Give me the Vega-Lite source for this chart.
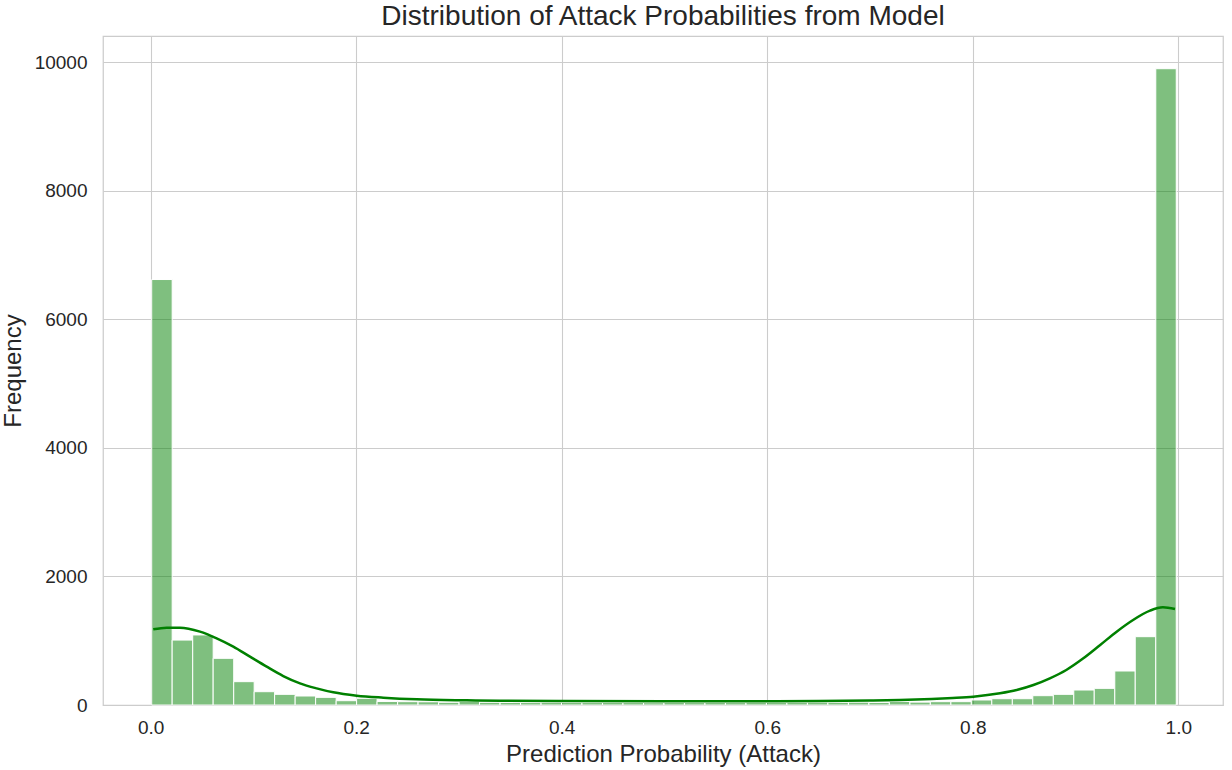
{
  "$schema": "https://vega.github.io/schema/vega-lite/v6.json",
  "autosize": "none",
  "padding": {"left": 103, "top": 36, "right": 9, "bottom": 65},
  "width": 1120,
  "height": 669,
  "background": "white",
  "config": {
    "font": "Liberation Sans",
    "view": {"stroke": "#cccccc", "strokeWidth": 1.25},
    "axis": {
      "domain": false,
      "ticks": false,
      "grid": true,
      "gridColor": "#cccccc",
      "gridWidth": 1.1,
      "labelColor": "#262626",
      "labelFont": "Liberation Sans",
      "labelFontSize": 19,
      "titleColor": "#262626",
      "titleFont": "Liberation Sans",
      "titleFontSize": 24,
      "titleFontWeight": "normal"
    },
    "title": {"font": "Liberation Sans", "fontSize": 28, "fontWeight": "normal", "color": "#262626"}
  },
  "title": {"text": "Distribution of Attack Probabilities from Model", "offset": 5},
  "datasets": {
    "bins": [
      {"x0": 0.0010, "x1": 0.0209, "count": 6620},
      {"x0": 0.0209, "x1": 0.0409, "count": 1010},
      {"x0": 0.0409, "x1": 0.0608, "count": 1090},
      {"x0": 0.0608, "x1": 0.0808, "count": 726},
      {"x0": 0.0808, "x1": 0.1007, "count": 363},
      {"x0": 0.1007, "x1": 0.1206, "count": 207},
      {"x0": 0.1206, "x1": 0.1406, "count": 166},
      {"x0": 0.1406, "x1": 0.1605, "count": 140},
      {"x0": 0.1605, "x1": 0.1805, "count": 119},
      {"x0": 0.1805, "x1": 0.2004, "count": 67},
      {"x0": 0.2004, "x1": 0.2203, "count": 104},
      {"x0": 0.2203, "x1": 0.2403, "count": 55},
      {"x0": 0.2403, "x1": 0.2602, "count": 52},
      {"x0": 0.2602, "x1": 0.2802, "count": 50},
      {"x0": 0.2802, "x1": 0.3001, "count": 42},
      {"x0": 0.3001, "x1": 0.3200, "count": 58},
      {"x0": 0.3200, "x1": 0.3400, "count": 42},
      {"x0": 0.3400, "x1": 0.3599, "count": 40},
      {"x0": 0.3599, "x1": 0.3799, "count": 38},
      {"x0": 0.3799, "x1": 0.3998, "count": 42},
      {"x0": 0.3998, "x1": 0.4197, "count": 40},
      {"x0": 0.4197, "x1": 0.4397, "count": 38},
      {"x0": 0.4397, "x1": 0.4596, "count": 40},
      {"x0": 0.4596, "x1": 0.4796, "count": 38},
      {"x0": 0.4796, "x1": 0.4995, "count": 36},
      {"x0": 0.4995, "x1": 0.5194, "count": 40},
      {"x0": 0.5194, "x1": 0.5394, "count": 38},
      {"x0": 0.5394, "x1": 0.5593, "count": 40},
      {"x0": 0.5593, "x1": 0.5793, "count": 38},
      {"x0": 0.5793, "x1": 0.5992, "count": 42},
      {"x0": 0.5992, "x1": 0.6191, "count": 40},
      {"x0": 0.6191, "x1": 0.6391, "count": 42},
      {"x0": 0.6391, "x1": 0.6590, "count": 44},
      {"x0": 0.6590, "x1": 0.6790, "count": 42},
      {"x0": 0.6790, "x1": 0.6989, "count": 44},
      {"x0": 0.6989, "x1": 0.7188, "count": 40},
      {"x0": 0.7188, "x1": 0.7388, "count": 55},
      {"x0": 0.7388, "x1": 0.7587, "count": 45},
      {"x0": 0.7587, "x1": 0.7787, "count": 52},
      {"x0": 0.7787, "x1": 0.7986, "count": 52},
      {"x0": 0.7986, "x1": 0.8185, "count": 78},
      {"x0": 0.8185, "x1": 0.8385, "count": 98},
      {"x0": 0.8385, "x1": 0.8584, "count": 98},
      {"x0": 0.8584, "x1": 0.8784, "count": 145},
      {"x0": 0.8784, "x1": 0.8983, "count": 166},
      {"x0": 0.8983, "x1": 0.9182, "count": 233},
      {"x0": 0.9182, "x1": 0.9382, "count": 259},
      {"x0": 0.9382, "x1": 0.9581, "count": 529},
      {"x0": 0.9581, "x1": 0.9781, "count": 1063},
      {"x0": 0.9781, "x1": 0.9980, "count": 9900}
    ],
    "kde": [
      {"p": 0.0025, "v": 1177},
      {"p": 0.0156, "v": 1203},
      {"p": 0.0285, "v": 1203},
      {"p": 0.048, "v": 1141},
      {"p": 0.0642, "v": 1037},
      {"p": 0.0804, "v": 908},
      {"p": 0.0966, "v": 752},
      {"p": 0.1129, "v": 596},
      {"p": 0.129, "v": 451},
      {"p": 0.1453, "v": 337},
      {"p": 0.1615, "v": 259},
      {"p": 0.1777, "v": 197},
      {"p": 0.2005, "v": 145},
      {"p": 0.2264, "v": 114},
      {"p": 0.259, "v": 88},
      {"p": 0.3075, "v": 73},
      {"p": 0.34, "v": 67},
      {"p": 0.4, "v": 62},
      {"p": 0.5, "v": 59},
      {"p": 0.6, "v": 59},
      {"p": 0.65, "v": 61},
      {"p": 0.7, "v": 69},
      {"p": 0.729, "v": 78},
      {"p": 0.76, "v": 95},
      {"p": 0.7805, "v": 110},
      {"p": 0.8005, "v": 130},
      {"p": 0.8265, "v": 182},
      {"p": 0.8427, "v": 233},
      {"p": 0.859, "v": 311},
      {"p": 0.875, "v": 415},
      {"p": 0.891, "v": 545},
      {"p": 0.9076, "v": 726},
      {"p": 0.924, "v": 934},
      {"p": 0.94, "v": 1141},
      {"p": 0.956, "v": 1323},
      {"p": 0.9725, "v": 1468},
      {"p": 0.985, "v": 1520},
      {"p": 0.9968, "v": 1494}
    ]
  },
  "layer": [
    {
      "data": {"name": "bins"},
      "mark": {"type": "rect", "fill": "#008000", "fillOpacity": 0.5, "stroke": "white", "strokeWidth": 1},
      "encoding": {
        "x": {
          "field": "x0", "type": "quantitative",
          "scale": {"domain": [-0.0464, 1.0435], "nice": false, "zero": false},
          "axis": {"title": "Prediction Probability (Attack)", "values": [0, 0.2, 0.4, 0.6, 0.8, 1.0], "format": ".1f", "labelPadding": 13, "titlePadding": 5}
        },
        "x2": {"field": "x1"},
        "y": {
          "field": "count", "type": "quantitative",
          "scale": {"domain": [0, 10409], "nice": false},
          "axis": {"title": "Frequency", "values": [0, 2000, 4000, 6000, 8000, 10000], "format": "d", "labelPadding": 16, "titlePadding": 9}
        },
        "y2": {"datum": 0}
      }
    },
    {
      "data": {"name": "kde"},
      "mark": {"type": "line", "color": "#008000", "strokeWidth": 2.5, "interpolate": "monotone"},
      "encoding": {
        "x": {"field": "p", "type": "quantitative"},
        "y": {"field": "v", "type": "quantitative"}
      }
    }
  ]
}
